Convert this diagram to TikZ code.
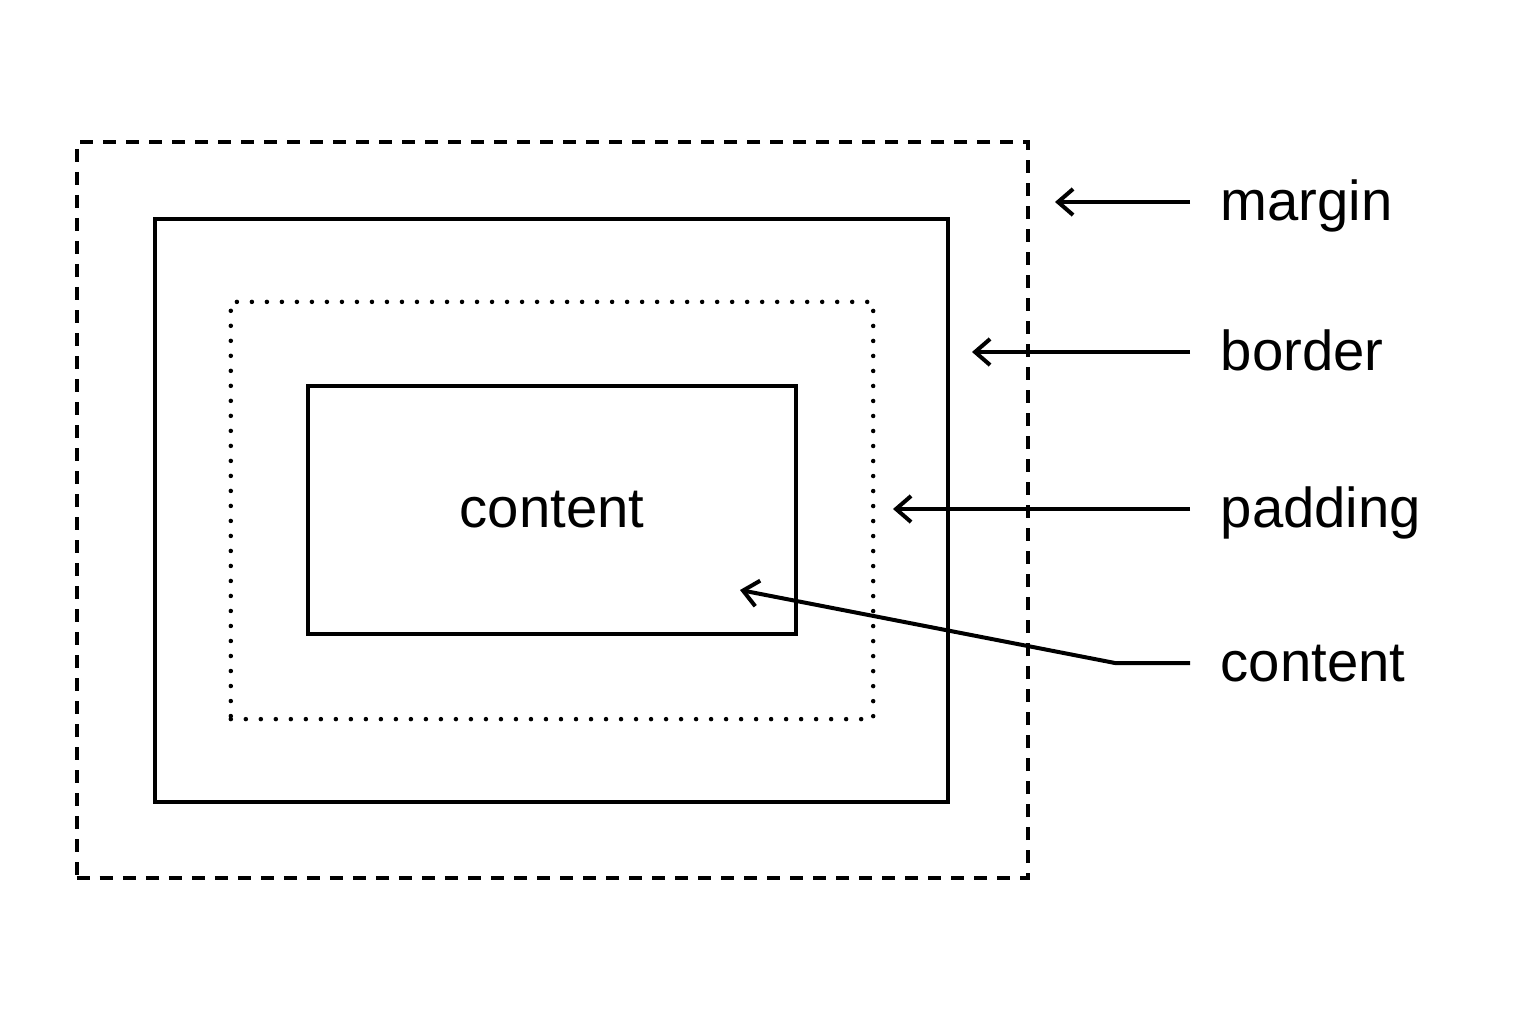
\documentclass[tikz,border=0pt]{standalone}
\usepackage{fontspec}
\setmainfont{Liberation Sans}
\usetikzlibrary{arrows.meta}
\tikzset{
  frame/.style={
    draw,
    line width = 0.04cm,
    inner sep = 0pt,
    shape = rectangle
  },
  marginbox/.style={
    frame,
    dash pattern = on 0.13cm off 0.10cm
  },
  padbox/.style={
    frame,
    line width = 0.045cm,
    line cap = round,
    dash pattern = on 0pt off 0.15cm
  },
  lbl/.style={
    anchor = west,
    font = \fontsize{16}{19}\selectfont,
    text height = 0.36cm,
    text depth = 0pt,
    inner ysep = 0pt,
    inner xsep = 0.3cm
  },
  arr/.style={
    line width = 0.04cm,
    -{Straight Barb[length=0.15cm,width=0.26cm]}
  }
}
\begin{document}
\begin{tikzpicture}[x=0.01cm,y=-0.01cm]
  \useasboundingbox (0,0) rectangle (1536,1024);

  % nested boxes
  \node[marginbox, minimum width=9.51cm, minimum height=7.36cm] (margin) at (552.5,510) {};
  \node[frame, minimum width=7.93cm, minimum height=5.83cm] (border) at (551.5,510.5) {};
  \node[padbox, minimum width=6.42cm, minimum height=4.17cm] (padding) at (552,510.5) {};
  \node[frame, minimum width=4.88cm, minimum height=2.48cm,
        font=\fontsize{16}{19}\selectfont] (content) at (552,510) {content};

  % labels
  \node[lbl] (lmargin) at (1190,202) {margin};
  \node[lbl] (lborder) at (1190,352) {border};
  \node[lbl] (lpadding) at (1190,509) {padding};
  \node[lbl] (lcontent) at (1190,663) {content};

  % arrow ends
  \coordinate (amargin) at (1055,202);
  \coordinate (aborder) at (972,352);
  \coordinate (apadding) at (893,509);
  \coordinate (kink) at (1115,663);
  \coordinate (acontent) at (740,590);

  \draw[arr] (lmargin.west) -- (amargin);
  \draw[arr] (lborder.west) -- (aborder);
  \draw[arr] (lpadding.west) -- (apadding);
  \draw[arr] (lcontent.west) -- (kink) -- (acontent);
\end{tikzpicture}
\end{document}
